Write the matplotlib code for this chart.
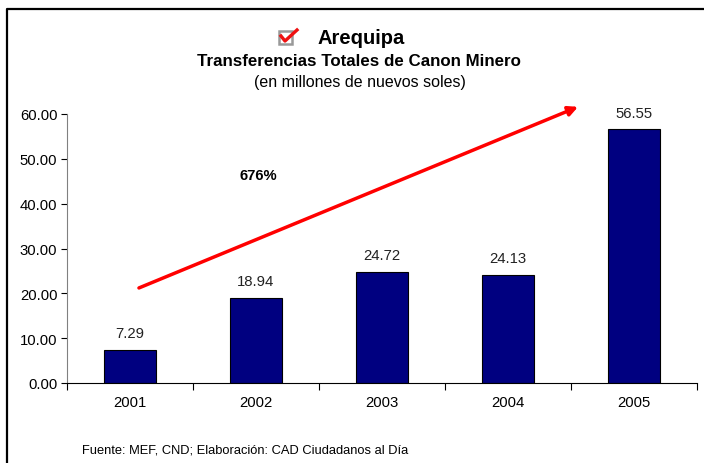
import matplotlib
matplotlib.use('Agg')
import matplotlib.pyplot as plt
import numpy as np
from matplotlib.patches import Rectangle
from matplotlib.lines import Line2D

plt.rcParams['font.family'] = ['Liberation Sans', 'DejaVu Sans']

years = ['2001', '2002', '2003', '2004', '2005']
values = [7.29, 18.94, 24.72, 24.13, 56.55]
yticks = [0, 10, 20, 30, 40, 50, 60]

fig = plt.figure(figsize=(7.04, 4.64), dpi=100)
ax = fig.add_axes([67 / 704, 1 - 384 / 464, 630 / 704, 269 / 464])

x = np.arange(len(years))
ax.bar(x, values, width=0.41, color='#000080', edgecolor='black', linewidth=0.8, zorder=2)
for xi, v in zip(x, values):
    ax.text(xi, v + 2.2, f'{v:.2f}', ha='center', va='bottom', fontsize=10.7, color='#222222')

ax.set_xlim(-0.5, 4.5)
ax.set_ylim(0, 60)
ax.set_yticks(yticks)
ax.set_yticklabels([f'{t:.2f}' for t in yticks], fontsize=10.7)
ax.set_xticks(x)
ax.set_xticklabels(years, fontsize=10.7)
ax.set_xticks(np.arange(-0.5, 5.0, 1.0), minor=True)
ax.tick_params(axis='x', which='major', length=0, pad=9)
ax.tick_params(axis='x', which='minor', length=5, direction='out', width=0.8)
ax.tick_params(axis='y', length=4, width=0.8, pad=3)
for s in ['top', 'right']:
    ax.spines[s].set_visible(False)
ax.spines['left'].set_color('#808080')
ax.spines['bottom'].set_color('black')
ax.spines['left'].set_linewidth(0.8)
ax.spines['bottom'].set_linewidth(0.8)

# red trend arrow
ax.annotate('', xy=(3.556, 61.6), xytext=(0.071, 21.2),
            arrowprops=dict(arrowstyle='-|>', color='#ff0000', lw=2.5,
                            mutation_scale=14, shrinkA=0, shrinkB=0),
            annotation_clip=False, zorder=3)
ax.text(1.02, 46.4, '676%', ha='center', va='center', fontsize=10.7, fontweight='bold')

# titles
fig.text(318 / 704, 1 - 39 / 464, 'Arequipa', ha='left', va='center', fontsize=14.5, fontweight='bold')
fig.text(359 / 704, 1 - 62 / 464, 'Transferencias Totales de Canon Minero', ha='center', va='center',
         fontsize=12.2, fontweight='bold')
fig.text(360 / 704, 1 - 83 / 464, '(en millones de nuevos soles)', ha='center', va='center', fontsize=11.5)

# checkbox icon
fig.patches.append(Rectangle((279 / 704, 1 - 45 / 464), 13 / 704, 13 / 464, transform=fig.transFigure,
                             facecolor='white', edgecolor='#999999', linewidth=1.8))
fig.lines.append(Line2D([281 / 704, 285 / 704, 297 / 704],
                        [1 - 37 / 464, 1 - 42 / 464, 1 - 31 / 464],
                        transform=fig.transFigure, color='#ee1111', linewidth=2.4))

# footer
fig.text(82 / 704, 1 - 451 / 464, 'Fuente: MEF, CND; Elaboración: CAD Ciudadanos al Día',
         ha='left', va='center', fontsize=9.3)

# frame lines
fig.lines.append(Line2D([6.5 / 704, 6.5 / 704, 1.0], [0.0, 1 - 10 / 464, 1 - 10 / 464],
                        transform=fig.transFigure, color='black', linewidth=1.6))

fig.savefig('out.png', dpi=100, facecolor='white')
